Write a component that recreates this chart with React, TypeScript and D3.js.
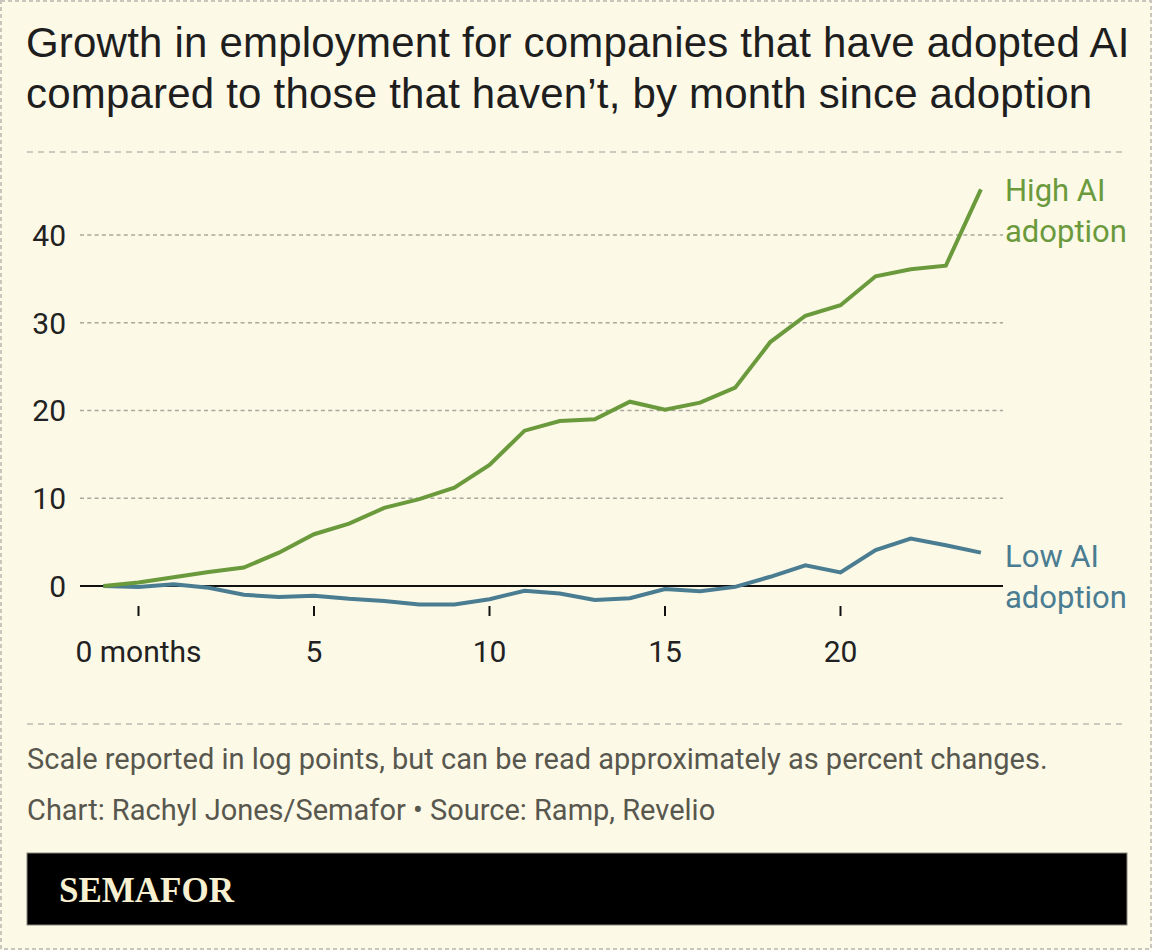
import React, { useEffect } from "react";
import * as d3 from "d3";

// months since adoption (x categories)
const months = [-1, 0, 1, 2, 3, 4, 5, 6, 7, 8, 9, 10, 11, 12, 13, 14, 15, 16, 17, 18, 19, 20, 21, 22, 23, 24];

// employment growth, log points
const highAI = [0, 0.4, 1.0, 1.6, 2.1, 3.8, 5.9, 7.1, 8.9, 9.9, 11.2, 13.8, 17.7, 18.8, 19.0, 21.0, 20.1, 20.9, 22.6, 27.8, 30.8, 32.0, 35.3, 36.1, 36.5, 45.2];
const lowAI = [0, -0.1, 0.2, -0.2, -1.0, -1.25, -1.1, -1.45, -1.7, -2.1, -2.1, -1.5, -0.55, -0.85, -1.6, -1.4, -0.35, -0.6, -0.1, 1.05, 2.35, 1.55, 4.1, 5.4, 4.65, 3.8];

const xTicks = [0, 5, 10, 15, 20];
const yTicks = [10, 20, 30, 40];

const titleLines = [
  "Growth in employment for companies that have adopted AI",
  "compared to those that haven\u2019t, by month since adoption",
];
const noteLines = [
  "Scale reported in log points, but can be read approximately as percent changes.",
  "Chart: Rachyl Jones/Semafor \u2022 Source: Ramp, Revelio",
];

const W = 1152;
const H = 950;
const BG = "#fcf9e7";
const GREEN = "#6b9a3d";
const BLUE = "#4a7d92";
const SANS = "Roboto, 'Noto Sans', sans-serif";

export default function App() {
  useEffect(() => {
    document.body.style.margin = "0";
    document.body.style.background = BG;
  }, []);

  const x = d3.scaleLinear().domain([0, 20]).range([138.5, 840.5]);
  const y = d3.scaleLinear().domain([0, 40]).range([586, 235]);

  const line = d3
    .line<number>()
    .x((_, i) => x(months[i]))
    .y((d) => y(d));

  const left = 27;
  const right = 1127;
  const gridL = 80;
  const gridR = 1003;
  const labelX = 1005;

  return (
    <svg width={W} height={H} style={{ display: "block", background: BG }}>
      <rect
        x={1}
        y={1}
        width={W - 2}
        height={H - 2}
        fill={BG}
        stroke="#c9c7bd"
        strokeWidth={2}
        strokeDasharray="4,3"
      />

      {titleLines.map((t, i) => (
        <text
          key={t}
          x={left - 1}
          y={57 + i * 51}
          fontFamily="'Liberation Sans', Arial, sans-serif"
          fontSize={42}
          letterSpacing={0.2}
          fill="#1e1e1e"
        >
          {t}
        </text>
      ))}

      <line x1={left} x2={right} y1={152} y2={152} stroke="#bdbbb2" strokeWidth={1.5} strokeDasharray="6,5" />

      {/* grid */}
      {yTicks.map((t) => (
        <g key={t}>
          <line x1={gridL} x2={gridR} y1={y(t)} y2={y(t)} stroke="#a9a79e" strokeWidth={1.3} strokeDasharray="4,3.3" />
          <text x={66} y={y(t)} dy="0.36em" textAnchor="end" fontFamily={SANS} fontSize={30} fill="#222">
            {t}
          </text>
        </g>
      ))}
      <text x={66} y={y(0)} dy="0.36em" textAnchor="end" fontFamily={SANS} fontSize={30} fill="#222">
        0
      </text>
      <line x1={gridL} x2={gridR} y1={y(0)} y2={y(0)} stroke="#111" strokeWidth={2} />

      {/* x axis */}
      {xTicks.map((t) => (
        <g key={t}>
          <line x1={x(t)} x2={x(t)} y1={606} y2={616} stroke="#111" strokeWidth={2} />
          <text x={x(t)} y={662} textAnchor="middle" fontFamily={SANS} fontSize={30} fill="#222">
            {t === 0 ? "0 months" : t}
          </text>
        </g>
      ))}

      <path d={line(lowAI) || ""} fill="none" stroke={BLUE} strokeWidth={4} />
      <path d={line(highAI) || ""} fill="none" stroke={GREEN} strokeWidth={4} />

      <text x={labelX} y={201} fontFamily={SANS} fontSize={31} fill={GREEN}>
        <tspan x={labelX}>High AI</tspan>
        <tspan x={labelX} dy={41}>adoption</tspan>
      </text>
      <text x={labelX} y={567} fontFamily={SANS} fontSize={31} fill={BLUE}>
        <tspan x={labelX}>Low AI</tspan>
        <tspan x={labelX} dy={41}>adoption</tspan>
      </text>

      <line x1={left} x2={right} y1={724} y2={724} stroke="#bdbbb2" strokeWidth={1.5} strokeDasharray="6,5" />

      {noteLines.map((t, i) => (
        <text key={t} x={left} y={769 + i * 51} fontFamily={SANS} fontSize={29} fill="#58574e">
          {t}
        </text>
      ))}

      <rect x={left} y={853} width={right - left} height={72} fill="#000" stroke="#8a887f" strokeWidth={1} />
      <text
        x={59}
        y={902}
        fontFamily="'Liberation Serif', 'Times New Roman', serif"
        fontWeight="bold"
        fontSize={35}
        fill="#f7f1d2"
      >
        SEMAFOR
      </text>
    </svg>
  );
}
